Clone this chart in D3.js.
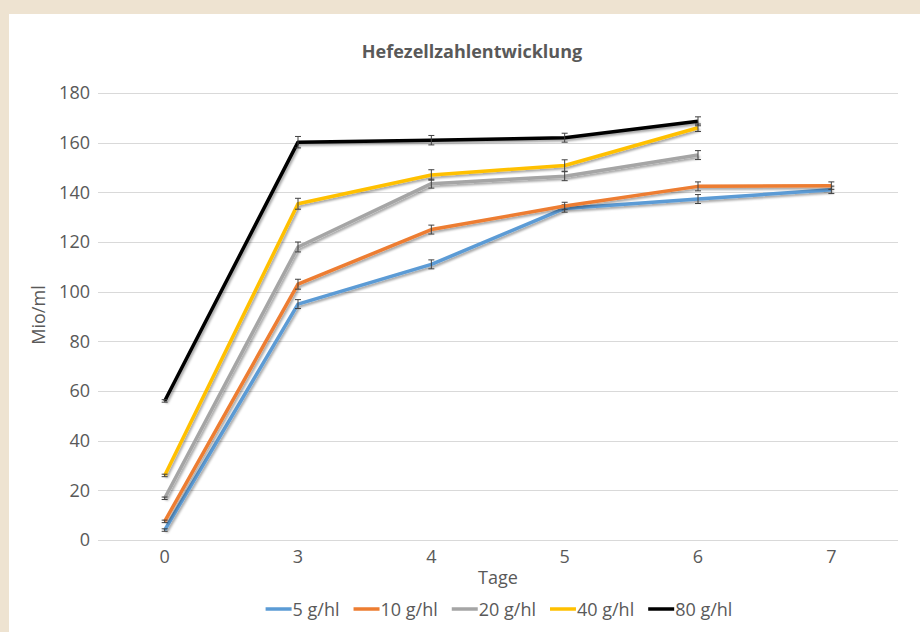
<!DOCTYPE html>
<html>
<head>
<meta charset="utf-8">
<script src="https://cdn.jsdelivr.net/npm/d3@7"></script>
<style>
  html, body { margin: 0; padding: 0; background: #EEE3D1; }
  svg { display: block; }
</style>
</head>
<body>
<svg id="chart" width="920" height="632"></svg>
<script>
// ---- data ----
const days = ["0", "3", "4", "5", "6", "7"];
const seriesNames = ["5 g/hl", "10 g/hl", "20 g/hl", "40 g/hl", "80 g/hl"];
const seriesColors = ["#5B9BD5", "#ED7D31", "#A5A5A5", "#FFC000", "#000000"];
const values5  = [4, 95, 111, 133.5, 137.3, 141];
const values10 = [7.5, 103, 125, 134.5, 142.4, 142.7];
const values20 = [16.8, 118, 143.5, 146.5, 155, null];
const values40 = [26, 135.4, 147, 150.8, 166, null];
const values80 = [56, 160.2, 161, 162, 168.6, null];
const err5  = [0.5, 1.8, 1.8, 1.5, 1.8, 1.5];
const err10 = [0.5, 2.0, 1.8, 1.5, 1.8, 1.5];
const err20 = [0.5, 2.0, 1.8, 1.8, 1.8, null];
const err40 = [0.5, 2.2, 2.1, 2.3, 1.5, null];
const err80 = [0.5, 2.3, 1.9, 1.8, 1.8, null];
const yTicks = [0, 20, 40, 60, 80, 100, 120, 140, 160, 180];
const titleText = "Hefezellzahlentwicklung";
const xTitle = "Tage";
const yTitle = "Mio/ml";

const allValues = [values5, values10, values20, values40, values80];
const allErrors = [err5, err10, err20, err40, err80];

// ---- layout ----
const svg = d3.select("#chart");
const W = 920, H = 632;
const font = "'Open Sans', 'Noto Sans', sans-serif";
const textColor = "#595959";

svg.append("rect").attr("x", 0).attr("y", 0).attr("width", W).attr("height", H).attr("fill", "#EEE3D1");
svg.append("rect").attr("x", 9).attr("y", 14).attr("width", W - 9).attr("height", H - 14).attr("fill", "#FFFFFF");

const defs = svg.append("defs");
const f = defs.append("filter").attr("id", "shadow").attr("x", "-10%").attr("y", "-10%").attr("width", "120%").attr("height", "130%");
f.append("feDropShadow").attr("dx", 1.5).attr("dy", 2).attr("stdDeviation", 1.3)
  .attr("flood-color", "#000").attr("flood-opacity", 0.35);

const plot = { left: 98, right: 898, top: 93, bottom: 540 };

const x = d3.scaleBand().domain(days).range([plot.left, plot.right]).paddingInner(0).paddingOuter(0);
const y = d3.scaleLinear().domain([0, 180]).range([plot.bottom, plot.top]);
const cx = d => x(d) + x.bandwidth() / 2;

// gridlines
svg.append("g").selectAll("line").data(yTicks).join("line")
  .attr("x1", plot.left).attr("x2", plot.right)
  .attr("y1", d => Math.round(y(d)) + 0.5).attr("y2", d => Math.round(y(d)) + 0.5)
  .attr("stroke", "#D9D9D9").attr("stroke-width", 1);

// y axis (labels only)
const yAxis = d3.axisLeft(y).tickValues(yTicks).tickSize(0).tickPadding(8);
const gy = svg.append("g").attr("transform", `translate(${plot.left - 0},0)`).call(yAxis);
gy.select(".domain").remove();
gy.selectAll("text").attr("font-family", font).attr("font-size", 18).attr("fill", textColor);

// x axis (labels only)
const xAxis = d3.axisBottom(x).tickSize(0).tickPadding(10);
const gx = svg.append("g").attr("transform", `translate(0,${plot.bottom})`).call(xAxis);
gx.select(".domain").remove();
gx.selectAll("text").attr("font-family", font).attr("font-size", 18).attr("fill", textColor);

// title
svg.append("text").attr("x", 472).attr("y", 58).attr("text-anchor", "middle")
  .attr("font-family", font).attr("font-weight", "bold").attr("font-size", 18)
  .attr("fill", textColor).text(titleText);

// axis titles
svg.append("text").attr("x", 498).attr("y", 584).attr("text-anchor", "middle")
  .attr("font-family", font).attr("font-size", 18).attr("fill", textColor).text(xTitle);
svg.append("text").attr("transform", "translate(45,315) rotate(-90)").attr("text-anchor", "middle")
  .attr("font-family", font).attr("font-size", 18).attr("fill", textColor).text(yTitle);

// series
const line = d3.line().defined(d => d.v != null).x(d => cx(d.day)).y(d => y(d.v)).curve(d3.curveLinear);
allValues.forEach((vals, i) => {
  const pts = days.map((day, k) => ({ day, v: vals[k], e: allErrors[i][k] }));
  const g = svg.append("g");
  g.append("path").datum(pts).attr("d", line)
    .attr("fill", "none").attr("stroke", seriesColors[i]).attr("stroke-width", 3.5)
    .attr("stroke-linejoin", "round").attr("stroke-linecap", "butt")
    .attr("filter", "url(#shadow)");
  const eb = g.selectAll("g.eb").data(pts.filter(d => d.v != null)).join("g").attr("class", "eb");
  eb.append("line").attr("x1", d => cx(d.day)).attr("x2", d => cx(d.day))
    .attr("y1", d => y(d.v - d.e)).attr("y2", d => y(d.v + d.e))
    .attr("stroke", "#404040").attr("stroke-width", 1);
  [1, -1].forEach(s => {
    eb.append("line").attr("x1", d => cx(d.day) - 3).attr("x2", d => cx(d.day) + 3)
      .attr("y1", d => y(d.v + s * d.e)).attr("y2", d => y(d.v + s * d.e))
      .attr("stroke", "#404040").attr("stroke-width", 1);
  });
});

// legend
const legend = svg.append("g");
const legY = 609;
let lx = 0;
seriesNames.forEach((name, i) => {
  const it = legend.append("g");
  it.append("line").attr("x1", 0).attr("x2", 26).attr("y1", 0).attr("y2", 0)
    .attr("stroke", seriesColors[i]).attr("stroke-width", 3.5);
  const t = it.append("text").attr("x", 27).attr("y", 6.5).attr("font-family", font)
    .attr("font-size", 18).attr("fill", textColor).text(name);
  const w = 27 + t.node().getComputedTextLength();
  it.attr("transform", `translate(${lx},${legY})`);
  lx += w + 14;
});
const legW = lx - 14;
legend.attr("transform", `translate(${499 - legW / 2},0)`);
</script>
</body>
</html>
